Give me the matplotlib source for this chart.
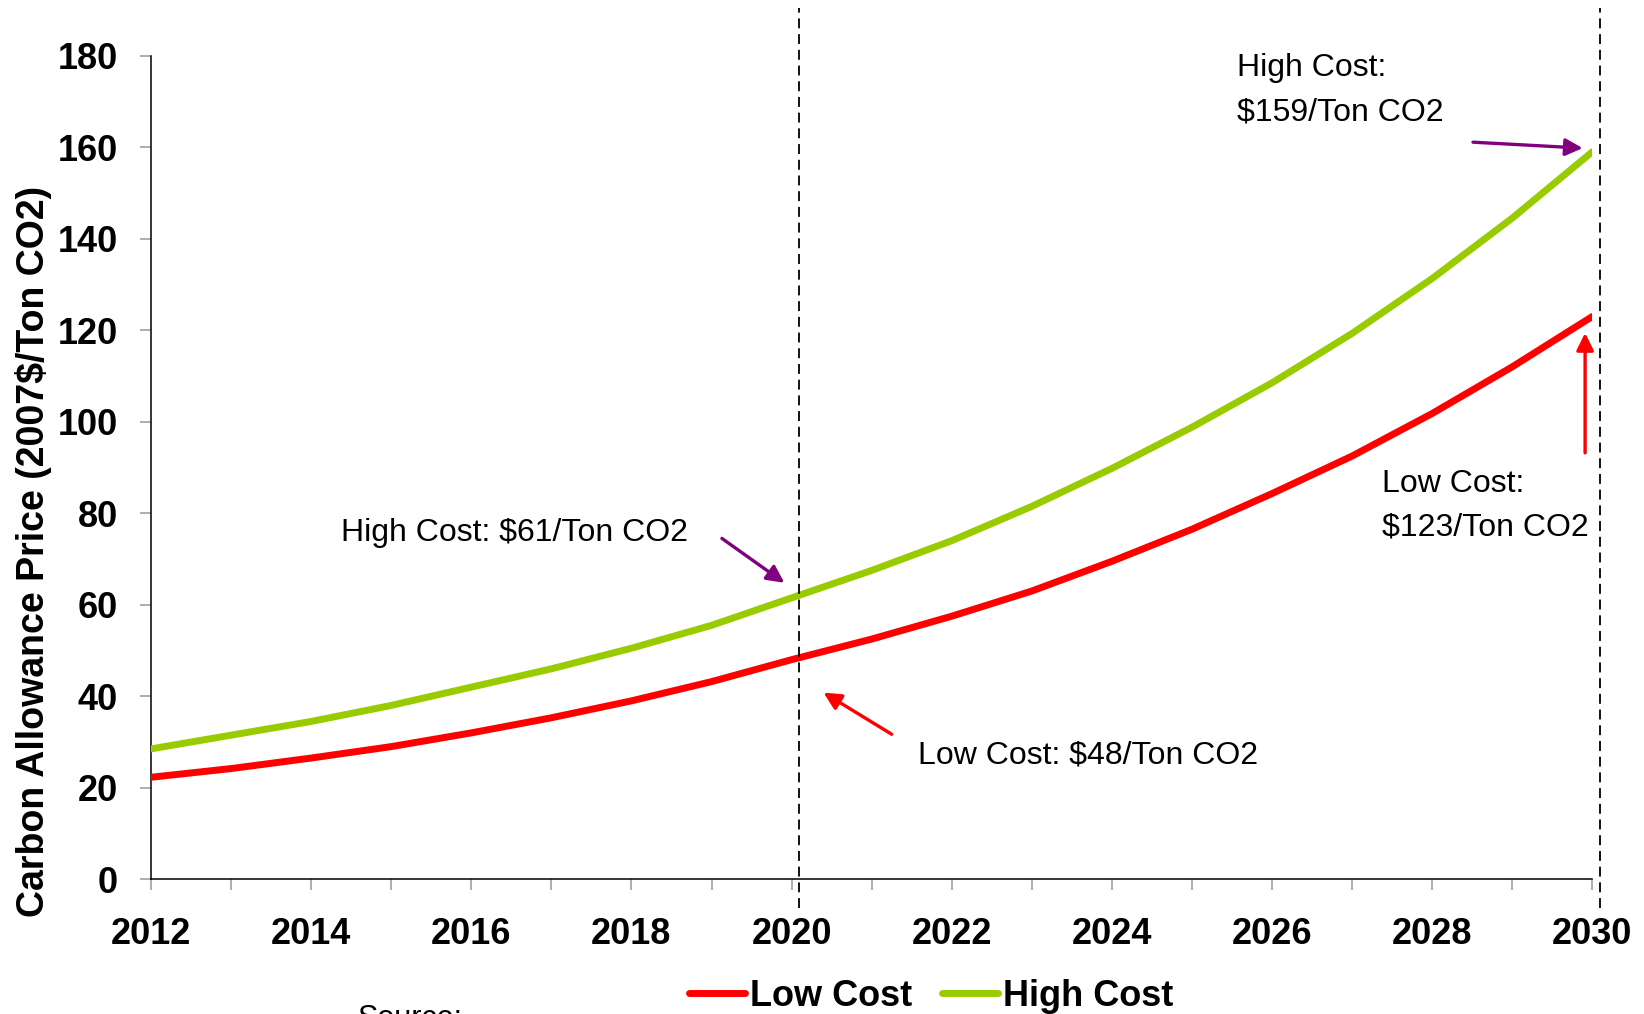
import matplotlib
matplotlib.use("Agg")
import matplotlib.pyplot as plt
from matplotlib.lines import Line2D

years = list(range(2012, 2031))
low_cost = [22.3, 24.2, 26.5, 29.0, 32.0, 35.3, 39.0, 43.2, 48.0, 52.5,
            57.5, 63.0, 69.5, 76.5, 84.3, 92.5, 101.8, 112.0, 123.0]
high_cost = [28.5, 31.5, 34.5, 38.0, 42.0, 46.0, 50.5, 55.5, 61.5, 67.5,
             74.0, 81.5, 89.8, 98.8, 108.5, 119.3, 131.3, 144.5, 159.0]
series_names = ["Low Cost", "High Cost"]
series_colors = ["#FF0000", "#99CC00"]
ref_years = [2020.09, 2030.1]
y_ticks = list(range(0, 181, 20))
x_label_years = list(range(2012, 2031, 2))
x_minor_years = list(range(2013, 2030, 2))

plt.rcParams['font.family'] = ['Liberation Sans', 'DejaVu Sans']
ann_size = 23

fig = plt.figure(figsize=(16.44, 10.14), dpi=100)
ax = fig.add_axes([151/1644, 1-879.3/1014, 1441.3/1644, 823.6/1014])

for vals, name, col in zip([low_cost, high_cost], series_names, series_colors):
    ax.plot(years, vals, color=col, lw=5, solid_capstyle='round', label=name, zorder=3)

ax.set_xlim(2012, 2030)
ax.set_ylim(0, 180)
for sp in ['top', 'right']:
    ax.spines[sp].set_visible(False)
for sp in ['left', 'bottom']:
    ax.spines[sp].set_linewidth(1.1)
    ax.spines[sp].set_color('black')

ax.set_xticks(x_label_years)
ax.set_xticks(x_minor_years, minor=True)
ax.set_yticks(y_ticks)
ax.tick_params(axis='both', which='both', direction='out', length=8, width=1.1, color='#999999')
ax.tick_params(axis='x', which='major', pad=19, labelsize=26)
ax.tick_params(axis='y', which='major', pad=16, labelsize=26)
for lab in ax.get_xticklabels() + ax.get_yticklabels():
    lab.set_fontweight('bold')

ax.set_ylabel("Carbon Allowance Price (2007$/Ton CO2)", fontsize=27, fontweight='bold')
ax.yaxis.label.set_va('center')
ax.yaxis.set_label_coords(-0.0815, 0.3986)

for rx in ref_years:
    ax.plot([rx, rx], [-6.3, 190.5], color='black', lw=1.3, linestyle=(0, (5.5, 3.2)),
            clip_on=False, zorder=4)

# annotations
ax.text(2025.56, 175.5, "High Cost:", fontsize=ann_size, va='baseline', ha='left')
ax.text(2025.56, 165.9, "$159/Ton CO2", fontsize=ann_size, va='baseline', ha='left')
ax.text(2027.37, 84.7, "Low Cost:", fontsize=ann_size, va='baseline', ha='left')
ax.text(2027.37, 75.2, "$123/Ton CO2", fontsize=ann_size, va='baseline', ha='left')
ax.text(2014.37, 74.0, "High Cost: $61/Ton CO2", fontsize=ann_size, va='baseline', ha='left')
ax.text(2021.58, 25.35, "Low Cost: $48/Ton CO2", fontsize=ann_size, va='baseline', ha='left')

purple = '#800080'
arrow_specs = [
    ((2029.88, 159.8), (2028.51, 161.1), purple),
    ((2029.91, 119.4), (2029.91, 93.2), '#FF0000'),
    ((2019.91, 64.8), (2019.13, 74.5), purple),
    ((2020.40, 40.8), (2021.25, 31.7), '#FF0000'),
]
for head, tail, col in arrow_specs:
    ax.annotate("", xy=head, xytext=tail,
                arrowprops=dict(arrowstyle='-|>', color=col, lw=2.4, mutation_scale=26,
                                shrinkA=0, shrinkB=0), annotation_clip=False)

handles = [Line2D([0], [0], color=c, lw=5, solid_capstyle='round') for c in series_colors]
leg = fig.legend(handles, series_names, loc='center', bbox_to_anchor=(931/1644, 1-996/1014),
                 ncol=2, frameon=False, handlelength=1.55, handletextpad=0.14,
                 columnspacing=0.83, borderaxespad=0, borderpad=0,
                 prop={'size': 26, 'weight': 'bold'})

fig.text(358/1644, 1-1004/1014, "Source:", fontsize=22, va='top', ha='left')

fig.savefig("out.png", dpi=100)
